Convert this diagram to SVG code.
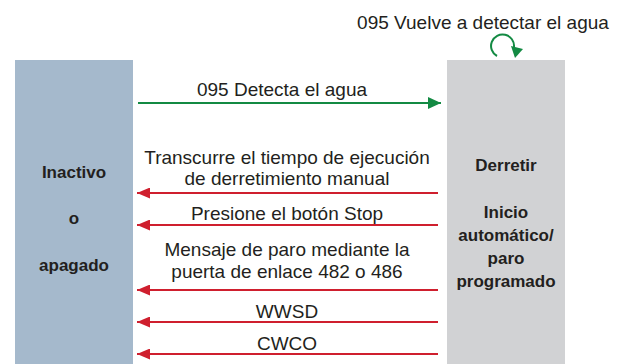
<svg xmlns="http://www.w3.org/2000/svg" width="621" height="364" viewBox="0 0 621 364">
<style>
  .lbl { font-family: "Liberation Sans", Arial, sans-serif; font-size: 19px; fill: #231f20; text-anchor: middle; }
  .node { font-family: "Liberation Sans", Arial, sans-serif; font-size: 17px; font-weight: bold; fill: #231f20; text-anchor: middle; }
  .red { stroke: #cf1f2e; stroke-width: 2; fill: none; }
  .green { stroke: #138a43; stroke-width: 2; fill: none; }
</style>
<defs>
  <marker id="ar" viewBox="0 0 13 11" refX="13" refY="5.5" markerWidth="13" markerHeight="11" markerUnits="userSpaceOnUse" orient="auto">
    <path d="M0,0 L13,5.5 L0,11 Z" fill="#cf1f2e"/>
  </marker>
  <marker id="ag" viewBox="0 0 13 12" refX="13" refY="6" markerWidth="13" markerHeight="12" markerUnits="userSpaceOnUse" orient="auto">
    <path d="M0,0 L13,6 L0,12 Z" fill="#138a43"/>
  </marker>
</defs>
<rect width="621" height="364" fill="#ffffff"/>
<g id="inactivo">
  <rect x="15" y="60" width="118" height="304" fill="#a5b9cc"/>
  <text class="node" x="74" y="178">Inactivo</text>
  <text class="node" x="74" y="224">o</text>
  <text class="node" x="74" y="271">apagado</text>
</g>
<g id="derretir">
  <rect x="447" y="60" width="118" height="304" fill="#d1d2d4"/>
  <text class="node" x="506" y="171">Derretir</text>
  <text class="node" x="506" y="218">Inicio</text>
  <text class="node" x="506" y="241">automático/</text>
  <text class="node" x="506" y="264">paro</text>
  <text class="node" x="506" y="287">programado</text>
</g>
<g id="connectors">
  <line class="green" x1="138" y1="103" x2="441" y2="103" marker-end="url(#ag)"/>
  <text class="lbl" x="282" y="96">095 Detecta el agua</text>
  <path class="green" d="M497,56 A11.5,11.5 0 1 1 514,47"/>
  <polygon points="511,46 523,49 515,58" fill="#138a43"/>
  <text class="lbl" x="483" y="29">095 Vuelve a detectar el agua</text>
  <line class="red" x1="438" y1="193" x2="137" y2="193" marker-end="url(#ar)"/>
  <text class="lbl" x="287" y="164">Transcurre el tiempo de ejecución</text>
  <text class="lbl" x="287" y="185">de derretimiento manual</text>
  <line class="red" x1="438" y1="225" x2="137" y2="225" marker-end="url(#ar)"/>
  <text class="lbl" x="287" y="220">Presione el botón Stop</text>
  <line class="red" x1="438" y1="290" x2="137" y2="290" marker-end="url(#ar)"/>
  <text class="lbl" x="287" y="256">Mensaje de paro mediante la</text>
  <text class="lbl" x="287" y="278">puerta de enlace 482 o 486</text>
  <line class="red" x1="438" y1="322" x2="137" y2="322" marker-end="url(#ar)"/>
  <text class="lbl" x="287" y="318">WWSD</text>
  <line class="red" x1="438" y1="354" x2="137" y2="354" marker-end="url(#ar)"/>
  <text class="lbl" x="287" y="350">CWCO</text>
</g>
</svg>
